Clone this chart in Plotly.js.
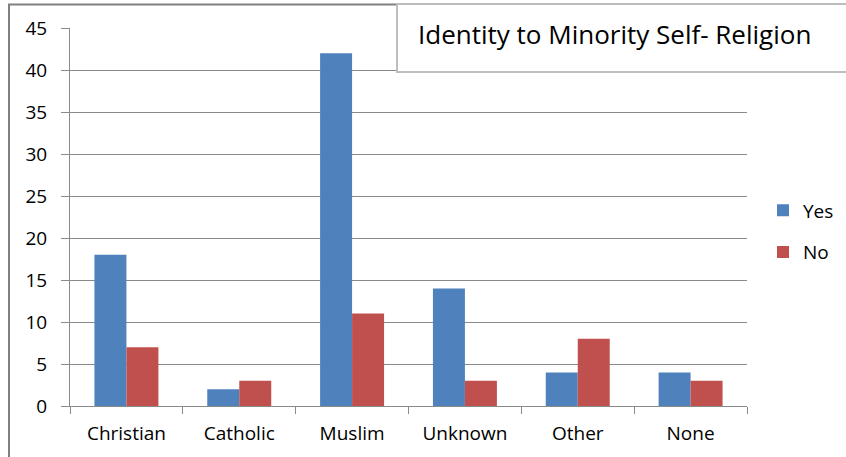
<!DOCTYPE html>
<html>
<head>
<meta charset="utf-8">
<script src="https://cdn.plot.ly/plotly-3.0.1.min.js"></script>
<style>
html,body{margin:0;padding:0;background:#fff;overflow:hidden;}
#chart{width:846px;height:457px;}
</style>
</head>
<body>
<div id="chart"></div>
<script>
var categories = ["Christian", "Catholic", "Muslim", "Unknown", "Other", "None"];
var yesValues = [18, 2, 42, 14, 4, 4];
var noValues = [7, 3, 11, 3, 8, 3];
var yTickValues = [0, 5, 10, 15, 20, 25, 30, 35, 40, 45];
var chartTitle = "Identity to Minority Self- Religion";

var W = 846, H = 457;
var L = 70, R = 747, T = 28, B = 406;
// paper area spans from L to W (right margin 0); x axis uses part of it
function px(x){ return (x - L) / (W - L); }
function py(y){ return (B - y) / (B - T); }

var traces = [
  {type: "bar", name: "Yes", x: categories, y: yesValues, legendgroup: "a",
   marker: {color: "#4F81BD"}, hoverinfo: "x+y+name"},
  {type: "bar", name: "No", x: categories, y: noValues, legendgroup: "b",
   marker: {color: "#C0504D"}, hoverinfo: "x+y+name"}
];

var axisGray = "#8a8a8a";
var layout = {
  width: W, height: H,
  margin: {l: L, r: 0, t: T, b: H - B, pad: 0},
  paper_bgcolor: "#fff", plot_bgcolor: "rgba(0,0,0,0)",
  font: {family: "Open Sans, sans-serif", size: 19, color: "#000"},
  barmode: "group", bargap: 0.433, bargroupgap: 0,
  title: {text: chartTitle, font: {family: "Open Sans, sans-serif", size: 26, color: "#000"},
          xref: "paper", x: px(418), xanchor: "left",
          yref: "container", y: 1 - 35 / H, yanchor: "middle"},
  xaxis: {type: "category", domain: [0, px(R)], showline: true, linecolor: axisGray, linewidth: 1,
          ticks: "outside", tickson: "boundaries", ticklen: 7, tickcolor: axisGray,
          ticklabelstandoff: 10,
          showgrid: false, zeroline: false, fixedrange: true},
  yaxis: {range: [0, 45], tickvals: yTickValues, showline: true, linecolor: axisGray, linewidth: 1,
          ticks: "outside", ticklen: 8, tickcolor: axisGray, ticklabelstandoff: 10,
          showgrid: true, gridcolor: axisGray, gridwidth: 1, zeroline: false, fixedrange: true},
  legend: {x: px(763), xanchor: "left", y: py(231.5), yanchor: "middle",
           traceorder: "grouped", tracegroupgap: 14, bgcolor: "rgba(0,0,0,0)",
           font: {family: "Open Sans, sans-serif", size: 19, color: "#000"}},
  shapes: [
    {type: "rect", xref: "paper", yref: "paper", layer: "above",
     x0: px(9), x1: px(900), y0: py(4.5), y1: py(520),
     line: {color: "#808080", width: 2}, fillcolor: "rgba(0,0,0,0)"},
    {type: "rect", xref: "paper", yref: "paper", layer: "above",
     x0: px(397), x1: px(900), y0: py(4), y1: py(72),
     line: {color: "#bdbdbd", width: 2}, fillcolor: "#ffffff"}
  ]
};

Plotly.newPlot("chart", traces, layout, {displayModeBar: false, staticPlot: true});
</script>
</body>
</html>
